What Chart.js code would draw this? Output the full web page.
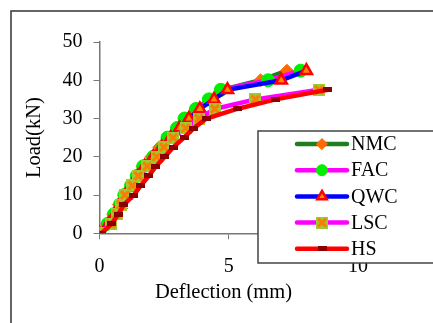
<!DOCTYPE html>
<html>
<head>
<meta charset="utf-8">
<script src="https://cdn.jsdelivr.net/npm/chart.js@4/dist/chart.umd.min.js"></script>
<style>
  html, body { margin: 0; padding: 0; background: #fff; }
  #wrap { width: 433px; height: 323px; position: relative; }
</style>
</head>
<body>
<div id="wrap"><canvas id="chart" width="433" height="323"></canvas></div>
<script>
// load steps (kN)
const loadsHigh = [0, 2.5, 5, 7.5, 10, 12.5, 15, 17.5, 20, 22.5, 25, 27.5, 30, 32.5, 35, 37.5, 40, 42.5];
const loadsLow = [0, 2.5, 5, 7.5, 10, 12.5, 15, 17.5, 20, 22.5, 25, 27.5, 30, 32.5, 35, 37.5];

// deflection (mm) per mix
const nmc = [0, 0.28, 0.53, 0.75, 0.96, 1.22, 1.44, 1.67, 2.01, 2.31, 2.66, 3.02, 3.30, 3.75, 4.27, 4.74, 6.23, 7.25];
const fac = [0, 0.32, 0.56, 0.79, 0.96, 1.22, 1.44, 1.69, 2.08, 2.46, 2.63, 3.00, 3.29, 3.73, 4.23, 4.69, 6.52, 7.78];
const qwc = [0, 0.35, 0.60, 0.80, 1.00, 1.25, 1.48, 1.75, 2.08, 2.40, 2.75, 3.10, 3.46, 3.88, 4.43, 4.95, 7.03, 8.00];
const lsc = [0, 0.44, 0.66, 0.83, 0.98, 1.27, 1.50, 1.85, 2.21, 2.49, 2.85, 3.33, 3.84, 4.46, 6.03, 8.49];
const hs = [0.08, 0.47, 0.73, 0.94, 1.33, 1.60, 1.91, 2.18, 2.53, 2.85, 3.27, 3.65, 4.14, 5.32, 6.81, 8.83];

const seriesNames = ["NMC", "FAC", "QWC", "LSC", "HS"];
const xTicks = [0, 5, 10];
const xTitle = "Deflection (mm)";

// custom marker images
function squareX() {
  const c = document.createElement("canvas");
  c.width = 12; c.height = 12;
  const g = c.getContext("2d");
  g.fillStyle = "#9acd32";
  g.fillRect(0, 0, 12, 12);
  g.strokeStyle = "#ff7a00";
  g.lineWidth = 3;
  g.beginPath();
  g.moveTo(2, 2); g.lineTo(10, 10);
  g.moveTo(10, 2); g.lineTo(2, 10);
  g.stroke();
  return c;
}
function dash() {
  const c = document.createElement("canvas");
  c.width = 9; c.height = 5;
  const g = c.getContext("2d");
  g.fillStyle = "#8b0000";
  g.fillRect(0, 0, 9, 5);
  return c;
}

function pts(xs, ys) {
  return xs.map((x, i) => ({ x: x, y: ys[i] }));
}

const styles = [
  { line: "#1e7d1e", style: "rectRot", fill: "#ff6a00", border: "#ff6a00", bw: 1, r: 6.5 },
  { line: "#ff00ff", style: "circle", fill: "#00ee00", border: "#00ee00", bw: 1, r: 6.5 },
  { line: "#0000ff", style: "triangle", fill: "#ff8c00", border: "#ff0000", bw: 2.5, r: 6.5 },
  { line: "#ff00ff", style: squareX(), fill: "#9acd32", border: "#9acd32", bw: 1, r: 6 },
  { line: "#ff0000", style: dash(), fill: "#8b0000", border: "#8b0000", bw: 1, r: 4 }
];
const seriesData = [pts(nmc, loadsHigh), pts(fac, loadsHigh), pts(qwc, loadsHigh), pts(lsc, loadsLow), pts(hs, loadsLow)];

const datasets = seriesNames.map((name, i) => ({
  label: name,
  data: seriesData[i],
  borderColor: styles[i].line,
  borderWidth: 4.5,
  backgroundColor: styles[i].fill,
  pointStyle: styles[i].style,
  pointRadius: styles[i].r,
  pointBackgroundColor: styles[i].fill,
  pointBorderColor: styles[i].border,
  pointBorderWidth: styles[i].bw,
  tension: 0,
  order: seriesNames.length - i
}));

const serif = "'Liberation Serif', 'Times New Roman', serif";

// outer frame + x axis title
const framePlugin = {
  id: "frame",
  beforeDraw(chart) {
    const ctx = chart.ctx;
    ctx.save();
    ctx.strokeStyle = "#333";
    ctx.lineWidth = 1.5;
    ctx.strokeRect(11, 11, 1000, 1000);
    ctx.fillStyle = "#000";
    ctx.font = "20.5px " + serif;
    ctx.textAlign = "center";
    ctx.textBaseline = "middle";
    ctx.fillText(xTitle, 223.5, 293);
    ctx.restore();
  }
};

// boxed legend over the plot
const boxLegend = {
  id: "boxLegend",
  afterDraw(chart) {
    const ctx = chart.ctx;
    ctx.save();
    ctx.fillStyle = "#fff";
    ctx.fillRect(258, 131, 200, 132);
    ctx.strokeStyle = "#444";
    ctx.lineWidth = 1.5;
    ctx.strokeRect(258, 131, 200, 132);
    ctx.font = "20px " + serif;
    ctx.textBaseline = "middle";
    chart.data.datasets.forEach((ds, i) => {
      const y = 144 + i * 26.2;
      ctx.strokeStyle = ds.borderColor;
      ctx.lineWidth = 4.5;
      ctx.lineCap = "round";
      ctx.beginPath();
      ctx.moveTo(297, y);
      ctx.lineTo(347, y);
      ctx.stroke();
      ctx.fillStyle = ds.pointBackgroundColor;
      ctx.strokeStyle = ds.pointBorderColor;
      ctx.lineWidth = ds.pointBorderWidth;
      Chart.helpers.drawPoint(ctx, {
        pointStyle: ds.pointStyle,
        radius: ds.pointRadius - 1,
        rotation: 0,
        borderWidth: ds.pointBorderWidth
      }, 322, y);
      ctx.fillStyle = "#000";
      ctx.fillText(ds.label, 351, y + 1);
    });
    ctx.restore();
  }
};

new Chart(document.getElementById("chart"), {
  type: "line",
  data: { datasets: datasets },
  options: {
    responsive: false,
    animation: false,
    layout: { padding: { left: 0, top: 42, right: 75, bottom: 0 } },
    plugins: {
      legend: { display: false },
      tooltip: { enabled: false }
    },
    scales: {
      x: {
        type: "linear",
        min: 0,
        max: 10,
        afterBuildTicks: s => { s.ticks = xTicks.map(v => ({ value: v })); },
        afterFit: s => { s.height = 89.7; },
        grid: { drawOnChartArea: false, drawTicks: true, tickLength: 6, color: "#777" },
        border: { display: true, color: "#777", width: 1.5 },
        ticks: { color: "#000", font: { family: serif, size: 20 }, padding: 15, maxRotation: 0 },
        title: { display: false }
      },
      y: {
        min: 0,
        max: 50,
        ticks: { stepSize: 10, color: "#000", font: { family: serif, size: 20 }, padding: 11 },
        afterFit: s => { s.width = 99.5; },
        grid: { drawOnChartArea: false, drawTicks: true, tickLength: 6, color: "#777" },
        border: { display: true, color: "#777", width: 1.5 },
        title: { display: true, text: "Load(kN)", color: "#000", font: { family: serif, size: 20.5 }, padding: { top: 22, bottom: 0 } }
      }
    }
  },
  plugins: [framePlugin, boxLegend]
});
</script>
</body>
</html>
